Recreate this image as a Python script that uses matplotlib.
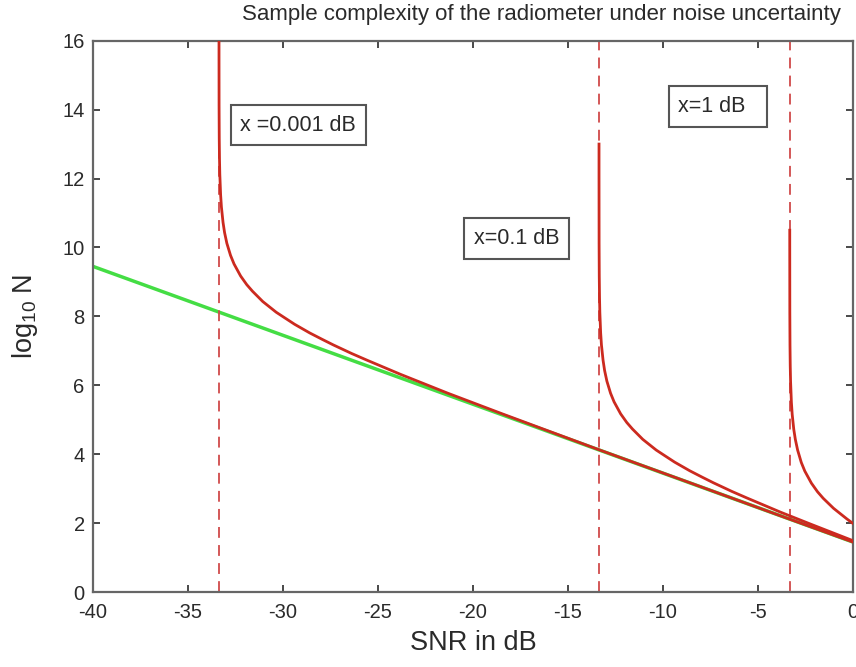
import matplotlib
matplotlib.use("Agg")
from matplotlib import pyplot as plt

plt.rcParams['font.family'] = ['Liberation Sans', 'DejaVu Sans']
plt.rcParams['mathtext.default'] = 'regular'

# curva sin incertidumbre (recta)
snr_ideal = [-40, 0]
logN_ideal = [9.45, 1.45]

# x = 0.001 dB
snr_x0001 = [-33.367, -33.366, -33.363, -33.354, -33.341, -33.324, -33.281, -33.239,
             -33.155, -33.073, -32.953, -32.760, -32.575, -32.228, -31.906, -31.606,
             -31.063, -30.357, -29.943, -29.388, -28.596, -27.926, -27.346, -26.377,
             -25.585, -23.825, -21.326, -18.453, -13.324, -8.581, -3.363, 0.0]
logN_x0001 = [16.72, 15.52, 14.12, 13.17, 12.57, 12.12, 11.52, 11.17,
              10.73, 10.43, 10.12, 9.77, 9.52, 9.17, 8.92, 8.73,
              8.43, 8.12, 7.97, 7.77, 7.52, 7.33, 7.17, 6.92,
              6.73, 6.32, 5.77, 5.17, 4.12, 3.17, 2.12, 1.45]

# x = 0.1 dB
snr_x01 = [-13.367, -13.367, -13.363, -13.354, -13.341, -13.324, -13.281, -13.239,
           -13.155, -13.073, -12.953, -12.760, -12.575, -12.228, -11.906, -11.606,
           -11.063, -10.357, -9.943, -9.388, -8.596, -7.926, -7.346, -6.377,
           -5.585, -3.825, -2.228, 0.0]
logN_x01 = [13.0, 12.12, 10.12, 9.17, 8.57, 8.12, 7.52, 7.17,
            6.73, 6.43, 6.12, 5.77, 5.52, 5.17, 4.92, 4.73,
            4.43, 4.12, 3.97, 3.77, 3.52, 3.33, 3.17, 2.92,
            2.73, 2.32, 1.97, 1.49]

# x = 1 dB
snr_x1 = [-3.329, -3.329, -3.325, -3.316, -3.303, -3.286, -3.243, -3.201,
          -3.117, -3.035, -2.915, -2.722, -2.537, -2.190, -1.868, -1.568,
          -1.025, -0.319, 0.0]
logN_x1 = [10.5, 10.12, 8.12, 7.16, 6.56, 6.12, 5.51, 5.16,
           4.72, 4.43, 4.12, 3.76, 3.51, 3.16, 2.91, 2.72,
           2.43, 2.12, 1.99]

# muros de SNR
snr_muros = [-33.367, -13.367, -3.329]

etiquetas = ['x =0.001 dB', 'x=0.1 dB', 'x=1 dB  ']
etiq_x = [-32.25, -19.95, -9.2]
etiq_y = [13.55, 10.26, 14.09]

xticks = list(range(-40, 1, 5))
yticks = list(range(0, 17, 2))

fig = plt.figure(figsize=(8.56, 6.67), dpi=100)
ax = fig.add_axes([0.1086, 0.1124, 0.8879, 0.8266])

rojo = '#cc2a1f'
ax.plot(snr_ideal, logN_ideal, color='#44dd44', lw=2.5, zorder=2)
for xs, ys in [(snr_x0001, logN_x0001), (snr_x01, logN_x01), (snr_x1, logN_x1)]:
    ax.plot(xs, ys, color=rojo, lw=2.0, zorder=3)
for m in snr_muros:
    ax.plot([m, m], [0, 16], color='#d04a4a', lw=1.3, dashes=(6, 4), zorder=2)

for t, xx, yy in zip(etiquetas, etiq_x, etiq_y):
    ax.text(xx, yy, t, fontsize=15.5, va='center', ha='left', color='#2a2a2a',
            bbox=dict(boxstyle='square,pad=0.45', fc='white', ec='#555555', lw=1.5))

ax.set_xlim(-40, 0)
ax.set_ylim(0, 16)
ax.set_xticks(xticks)
ax.set_xticklabels([str(v) for v in xticks])
ax.set_yticks(yticks)
ax.set_yticklabels([str(v) for v in yticks])
ax.tick_params(direction='in', top=True, right=True, labelsize=14.5,
               colors='#2a2a2a', length=5, width=1.2)
ax.tick_params(axis='x', pad=8)
ax.tick_params(axis='y', pad=6)
for s in ax.spines.values():
    s.set_color('#666666')
    s.set_linewidth(1.6)

ax.set_xlabel('SNR in dB', fontsize=19.5, color='#2a2a2a', labelpad=6)
ax.set_ylabel(r'log$_{10}$ N', fontsize=19.5, color='#2a2a2a', labelpad=16)
fig.text(0.632, 0.979, 'Sample complexity of the radiometer under noise uncertainty',
         ha='center', va='center', fontsize=16, color='#2a2a2a')

fig.savefig('out.png', dpi=100)
